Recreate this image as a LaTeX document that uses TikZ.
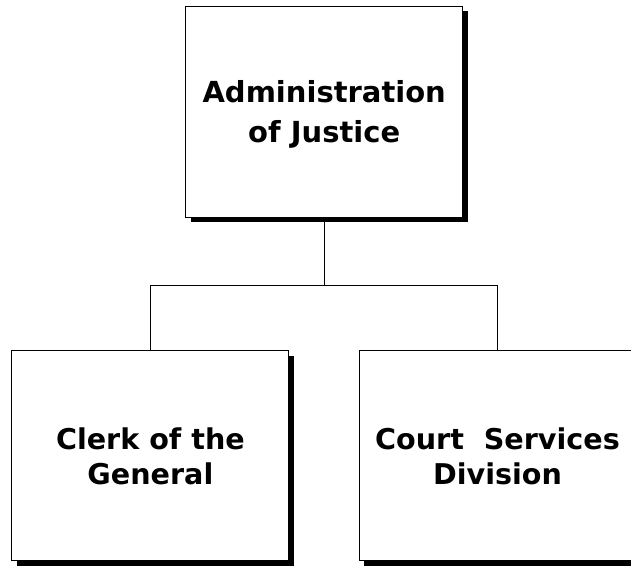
\documentclass[tikz,border=0pt]{standalone}
\usepackage{fontspec}
\setmainfont{DejaVu Sans}
\usetikzlibrary{shadows}
\begin{document}
\begin{tikzpicture}[x=1pt,y=1pt,
  orgbox/.style={draw=black, line width=1pt, fill=white, rectangle, inner sep=0pt,
    minimum width=277pt, minimum height=210pt, align=center, text depth=0pt,
    font=\bfseries\fontsize{28.6}{35}\selectfont,
    drop shadow={shadow xshift=5pt, shadow yshift=-5pt, fill=black, opacity=1}},
  conn/.style={draw=black, line width=1pt}]
\useasboundingbox (0,0) rectangle (631,-565);
\clip (0,0) rectangle (631,-565);
\fill[white] (0,0) rectangle (631,-565);
\node[orgbox, minimum height=211pt, font=\bfseries\fontsize{29}{40}\selectfont] (top) at (324.2,-111.5) {Administration\\of Justice};
\node[orgbox] (left) at (150.4,-455.7) {Clerk of the\\General};
\node[orgbox] (right) at (497.5,-455.7) {Court\ \ Services\\Division};
\coordinate (j) at (324.2,-285);
\draw[conn] (top.south) -- (j);
\draw[conn] (j) -| (left.north);
\draw[conn] (j) -| (right.north);
\end{tikzpicture}
\end{document}
